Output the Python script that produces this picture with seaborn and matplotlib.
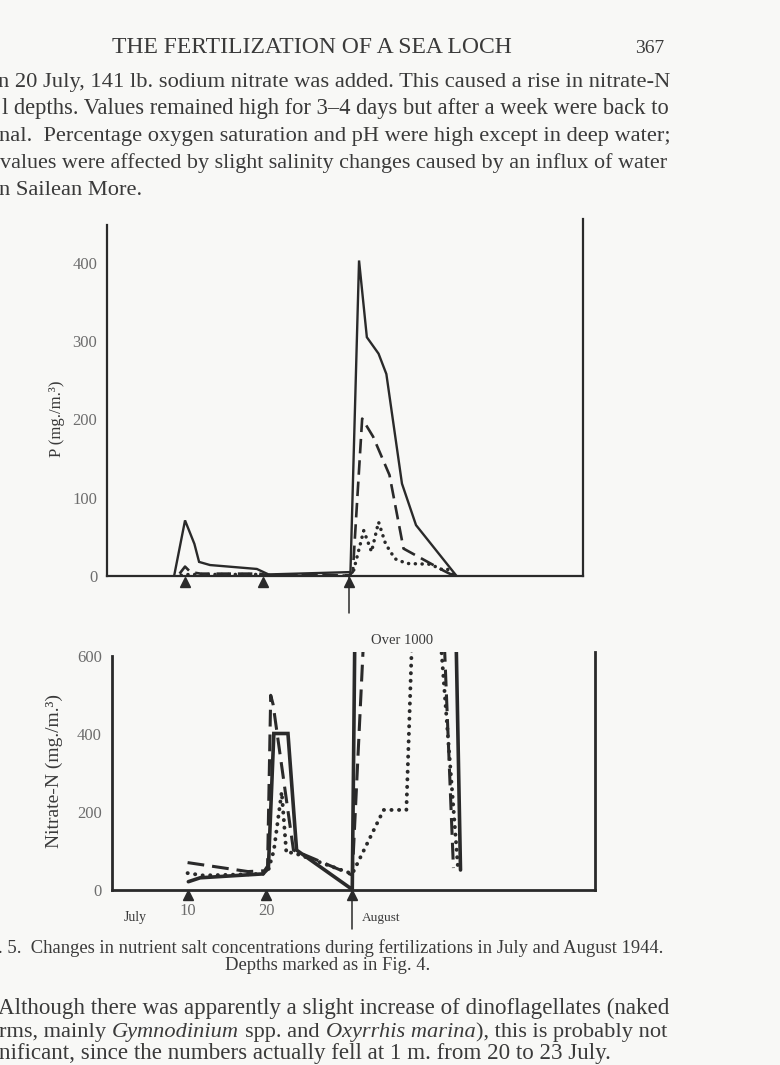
import numpy as np
import pandas as pd
import matplotlib
matplotlib.use("Agg")
import matplotlib.pyplot as plt
import seaborn as sns

# ---------------- data (days counted from 0 July) ----------------
fertilization_days = [10, 20, 31]
sampling_days = [11, 12, 13, 14, 21, 22, 23, 24, 33, 34, 35, 38, 40, 45]
xtick_days = [10, 20]
xtick_labels = ["10", "20"]
p_yticks = [0, 100, 200, 300, 400]
n_yticks = [0, 200, 400, 600]

# Phosphate, P (mg./m.^3)
p_solid_day = [8.6, 10.0, 11.2, 11.8, 13.2, 19.2, 20.7, 31.2, 32.3, 33.3, 34.8, 35.8, 37.8, 39.6, 44.8]
p_solid_val = [0, 71, 41, 18, 14, 9, 2, 5, 403, 305, 284, 258, 118, 65, 0]
p_dashed_day = [9.3, 10.0, 10.7, 12.0, 19.5, 20.5, 31.0, 31.5, 32.7, 34.1, 36.2, 38.0, 43.1, 44.5]
p_dashed_val = [3, 12, 5, 3, 3, 1, 1, 5, 201, 178, 129, 35, 7, 0]
p_dotted_day = [9.5, 10.5, 19.5, 20.5, 31.0, 31.5, 32.9, 33.9, 34.8, 35.7, 36.9, 38.4, 41.4, 43.0, 43.6, 44.5]
p_dotted_val = [1, 2, 2, 1, 0, 3, 58, 31, 69, 41, 22, 16, 15, 8, 9, 0]

# Nitrate-N (mg./m.^3); values of 1000 stand for "Over 1000"
n_solid_day = [10.1, 11.6, 19.6, 20.3, 21.0, 22.8, 23.9, 31.0, 31.5, 43.9, 44.8]
n_solid_val = [20, 30, 40, 54, 400, 400, 101, 0, 1000, 1000, 50]
n_dashed_day = [10.0, 17.7, 19.8, 20.2, 20.6, 20.9, 23.5, 31.0, 33.3, 42.0, 43.9]
n_dashed_val = [69, 46, 48, 60, 498, 475, 101, 37, 1000, 1000, 55]
n_dotted_day = [10.0, 12.0, 19.6, 20.3, 21.0, 22.0, 22.6, 23.4, 31.0, 35.0, 37.9, 39.2, 40.9, 44.5]
n_dotted_val = [42, 36, 40, 50, 100, 250, 93, 95, 40, 204, 204, 1000, 1000, 50]

# ---------------- style ----------------
sns.set_style("white")
plt.rcParams["font.family"] = ["Liberation Serif", "DejaVu Serif"]
INK = "#2a2a2a"
TXT = "#3a3a3a"
TICK = "#6d6d6d"
BG = "#f8f8f6"

W, H = 780, 1065
fig = plt.figure(figsize=(W / 100, H / 100), dpi=100, facecolor=BG)


def fx(x):
    return x / W


def fy(y):
    return 1 - y / H


def draw_series(ax, days, vals, kind, lw):
    sns.lineplot(x=days, y=vals, ax=ax, color=INK, linewidth=lw,
                 estimator=None, sort=False, legend=False)
    line = ax.lines[-1]
    if kind == "dashed":
        line.set_dashes((5.5, 2.6))
    elif kind == "dotted":
        line.set_dashes((0.05, 1.9))
        line.set_dash_capstyle("round")
    line.set_solid_capstyle("round")
    line.set_solid_joinstyle("miter")
    return line


def style_axes(ax, spine_w):
    ax.set_facecolor("none")
    ax.spines["top"].set_visible(False)
    for s in ("left", "right", "bottom"):
        ax.spines[s].set_linewidth(spine_w)
        ax.spines[s].set_color(INK)
    ax.set_xticks(fertilization_days)
    ax.set_xticks(sampling_days, minor=True)
    ax.tick_params(axis="x", which="major", length=0)
    ax.tick_params(axis="x", which="minor", length=4, width=1.0, color=INK, direction="out")
    ax.set_xlabel("")


# ---------------- top panel : P ----------------
ax1 = fig.add_axes([fx(107), fy(576), fx(583) - fx(107), fy(219) - fy(576)])
draw_series(ax1, p_solid_day, p_solid_val, "solid", 1.7)
draw_series(ax1, p_dashed_day, p_dashed_val, "dashed", 1.9)
draw_series(ax1, p_dotted_day, p_dotted_val, "dotted", 2.5)
ax1.set_xlim(0, 61)
ax1.set_ylim(0, 456)
style_axes(ax1, 1.6)
ax1.spines["left"].set_bounds(0, 448)
ax1.set_xticklabels([])
ax1.set_yticks(p_yticks)
ax1.set_yticklabels([str(v) for v in p_yticks])
ax1.tick_params(axis="y", length=5, width=1.0, color=INK, pad=2, labelsize=12, labelcolor=TICK)
ax1.set_ylabel("P (mg./m.³)", fontsize=12, color=TXT)
ax1.yaxis.set_label_coords(-0.088, 0.44)
tr1 = ax1.get_xaxis_transform()
ax1.plot(fertilization_days, [-0.016] * 3, transform=tr1, marker="^", ls="none",
         ms=7.5, color=INK, clip_on=False)
ax1.plot([fertilization_days[2]] * 2, [0, -0.105], transform=tr1, color=INK, lw=1.1, clip_on=False)

# ---------------- bottom panel : Nitrate-N ----------------
ax2 = fig.add_axes([fx(111.5), fy(889.5), fx(595) - fx(111.5), fy(651.6) - fy(889.5)])
draw_series(ax2, n_solid_day, n_solid_val, "solid", 2.6)
draw_series(ax2, n_dashed_day, n_dashed_val, "dashed", 2.2)
draw_series(ax2, n_dotted_day, n_dotted_val, "dotted", 2.8)
ax2.set_xlim(0.3, 61.95)
ax2.set_ylim(0, 610)
style_axes(ax2, 2.0)
ax2.spines["left"].set_bounds(0, 600)
ax2.set_xticks(fertilization_days)
ax2.set_xticklabels(xtick_labels + [""], fontsize=12, color=TICK)
ax2.tick_params(axis="x", which="major", pad=10)
ax2.set_yticks(n_yticks)
ax2.set_yticklabels([str(v) for v in n_yticks])
ax2.tick_params(axis="y", length=2, width=1.0, color=INK, pad=5, labelsize=12, labelcolor=TICK)
ax2.set_ylabel("Nitrate-N (mg./m.³)", fontsize=14, color=TXT)
ax2.yaxis.set_label_coords(-0.10, 0.50)
tr2 = ax2.get_xaxis_transform()
ax2.plot(fertilization_days, [-0.024] * 3, transform=tr2, marker="^", ls="none",
         ms=7.5, color=INK, clip_on=False)
ax2.plot([fertilization_days[2]] * 2, [0, -0.165], transform=tr2, color=INK, lw=1.1, clip_on=False)
ax2.text(3.3, -0.118, "July", transform=tr2, ha="center", va="center", fontsize=10, color=TXT)
ax2.text(32.2, -0.118, "August", transform=tr2, ha="left", va="center", fontsize=9.5, color=TXT)
ax2.text(37.4, 1.045, "Over 1000", transform=tr2, ha="center", va="center", fontsize=10.5,
         color=TXT)

# ---------------- page text ----------------
renderer = fig.canvas.get_renderer()


def fit_text(x, base, s, width, **kw):
    t = fig.text(fx(x), fy(base), s, ha="left", va="baseline", fontsize=12, color=TXT, **kw)
    w = t.get_window_extent(renderer).width
    t.set_fontsize(12 * width / w)
    return t


def put_text(x, base, s, size, **kw):
    kw.setdefault("ha", "left")
    return fig.text(fx(x), fy(base), s, va="baseline", fontsize=size, color=TXT, **kw)


put_text(312, 53, "THE FERTILIZATION OF A SEA LOCH", 17, ha="center")
put_text(664, 53, "367", 14, ha="right")

top_lines = [
    (-2, "n 20 July, 141 lb. sodium nitrate was added. This caused a rise in nitrate-N"),
    (2, "l depths. Values remained high for 3–4 days but after a week were back to"),
    (-1, "nal.  Percentage oxygen saturation and pH were high except in deep water;"),
    (0, "values were affected by slight salinity changes caused by an influx of water"),
]
base = 87
size0 = None
for x0, s in top_lines:
    t = fit_text(x0, base, s, 668 - x0)
    if size0 is None:
        size0 = t.get_fontsize()
    base += 27
put_text(-1, base, "n Sailean More.", size0)

cap = fit_text(-2, 953, ". 5.  Changes in nutrient salt concentrations during fertilizations in July and August 1944.", 666)
put_text(328, 970, "Depths marked as in Fig. 4.", cap.get_fontsize(), ha="center")

b1 = fit_text(-2, 1014, "Although there was apparently a slight increase of dinoflagellates (naked", 670)
bs = b1.get_fontsize()

pieces = [("rms, mainly", "normal"), ("Gymnodinium", "italic"), ("spp. and", "normal"),
          ("Oxyrrhis marina", "italic"), ("), this is probably not", "normal")]


def build_line(size):
    sp = size * 0.27 * 100 / 72
    arts = [put_text(-1, 1037, pieces[0][0], size)]
    for s, st in pieces[1:]:
        off = 0 if s.startswith(")") else sp
        arts.append(plt.annotate(s, xy=(1, 0), xycoords=arts[-1], xytext=(off, 0),
                                 textcoords="offset pixels", ha="left", va="bottom",
                                 fontsize=size, fontstyle=st, color=TXT,
                                 annotation_clip=False))
    return arts


arts = build_line(bs)
fig.canvas.draw()
right = arts[-1].get_window_extent(renderer).x1
for a in arts:
    a.remove()
build_line(bs * 669 / (right + 1))

put_text(-1, 1059, "nificant, since the numbers actually fell at 1 m. from 20 to 23 July.", bs)

fig.savefig("out.png", dpi=100, facecolor=BG)
